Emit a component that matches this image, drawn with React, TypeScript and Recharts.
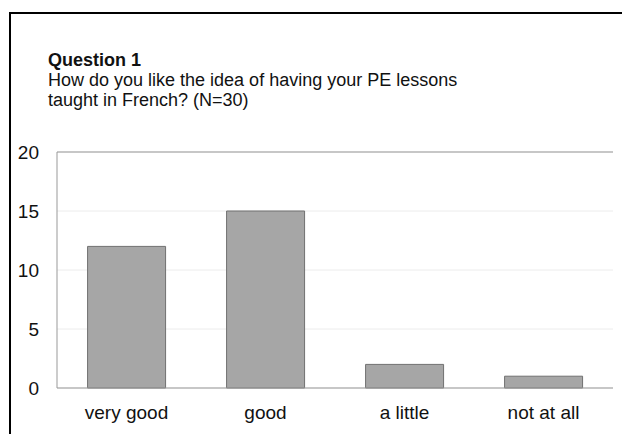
import { BarChart, Bar, XAxis, YAxis, CartesianGrid, ReferenceLine } from "recharts";

const categories = ["very good", "good", "a little", "not at all"];
const counts = [12, 15, 2, 1];
const yTicks = [0, 5, 10, 15, 20];

const data = categories.map((c, i) => ({ name: c, count: counts[i] }));

const FONT = "'Liberation Sans', Arial, sans-serif";

export default function App() {
  return (
    <div style={{ position: "absolute", left: 0, top: 0, width: 622, height: 434, background: "#fff", fontFamily: FONT, overflow: "hidden" }}>
      {/* outer frame */}
      <div style={{ position: "absolute", left: 9, top: 12, width: 640, height: 460, borderTop: "2px solid #000", borderLeft: "2px solid #000" }} />

      <div style={{ position: "absolute", left: 48, top: 50, fontSize: 18, lineHeight: "20px", color: "#111" }}>
        <div style={{ fontWeight: "bold" }}>Question 1</div>
        <div>How do you like the idea of having your PE lessons</div>
        <div>taught in French? (N=30)</div>
      </div>

      <div style={{ position: "absolute", left: 0, top: 0 }}>
        <BarChart width={622} height={434} data={data} margin={{ top: 152, right: 9, left: 0, bottom: 16 }} barCategoryGap="22%">
          <CartesianGrid vertical={false} stroke="#ececec" />
          <XAxis
            dataKey="name"
            tickLine={false}
            axisLine={{ stroke: "#999" }}
            tick={{ fill: "#111", fontSize: 19, fontFamily: FONT }}
            tickMargin={12}
          />
          <YAxis
            width={57}
            domain={[0, 20]}
            ticks={yTicks}
            tickLine={false}
            axisLine={{ stroke: "#999" }}
            tick={{ fill: "#111", fontSize: 19, fontFamily: FONT }}
            tickMargin={12}
          />
          <YAxis yAxisId="r" orientation="right" width={0} domain={[0, 20]} tick={false} tickLine={false} axisLine={{ stroke: "#999" }} />
          <ReferenceLine y={20} stroke="#999" />
          <Bar dataKey="count" fill="#a6a6a6" stroke="#707070" strokeWidth={1} isAnimationActive={false} />
        </BarChart>
      </div>
    </div>
  );
}
